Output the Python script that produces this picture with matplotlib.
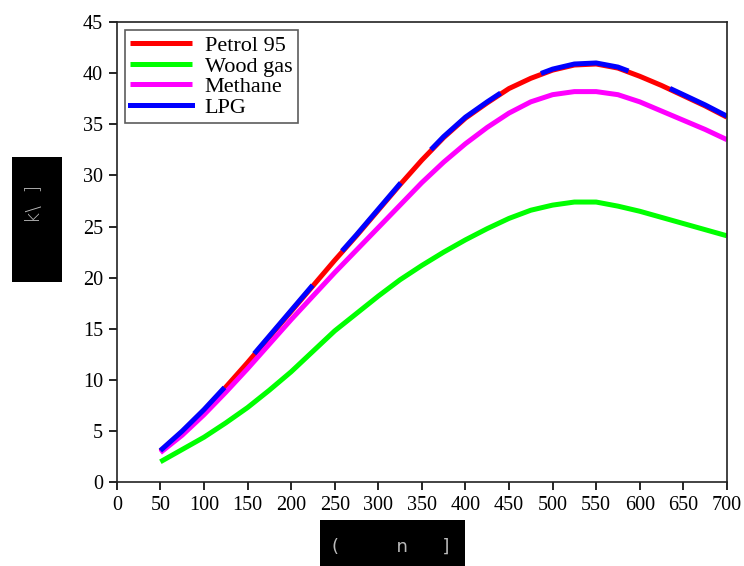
import numpy as np
import matplotlib
matplotlib.use("Agg")
import matplotlib.pyplot as plt
from matplotlib.patches import Rectangle

# values, every 25 units
speed = [50, 75, 100, 125, 150, 175, 200, 225, 250, 275, 300, 325, 350, 375,
         400, 425, 450, 475, 500, 525, 550, 575, 600, 625, 650, 675, 700]

lpg = [3.1, 5.0, 7.1, 9.4, 11.8, 14.3, 16.8, 19.3, 21.8, 24.2, 26.7, 29.2, 31.6, 33.8,
       35.7, 37.2, 38.6, 39.6, 40.4, 40.9, 41.0, 40.6, 39.8, 38.9, 37.9, 36.9, 35.8]
petrol95 = [3.0, 4.9, 7.0, 9.3, 11.7, 14.2, 16.7, 19.2, 21.7, 24.1, 26.6, 29.1, 31.5, 33.7,
            35.6, 37.1, 38.5, 39.5, 40.3, 40.8, 40.9, 40.5, 39.7, 38.8, 37.8, 36.8, 35.7]
methane = [2.9, 4.6, 6.6, 8.8, 11.1, 13.5, 15.9, 18.2, 20.5, 22.7, 24.9, 27.1, 29.3, 31.3,
           33.1, 34.7, 36.1, 37.2, 37.9, 38.2, 38.2, 37.9, 37.2, 36.3, 35.4, 34.5, 33.5]
wood_gas = [2.0, 3.2, 4.4, 5.8, 7.3, 9.0, 10.8, 12.8, 14.8, 16.5, 18.2, 19.8, 21.2, 22.5,
            23.7, 24.8, 25.8, 26.6, 27.1, 27.4, 27.4, 27.0, 26.5, 25.9, 25.3, 24.7, 24.1]

plt.rcParams['font.family'] = ['Liberation Serif', 'DejaVu Serif']

fig = plt.figure(figsize=(7.44, 5.66), dpi=100)
ax = fig.add_axes([0.157, 0.148, 0.82, 0.813])

lw = 3.6
ax.plot(speed, petrol95, color='#ff0000', lw=lw, label='Petrol 95', solid_capstyle='butt')
ax.plot(speed, wood_gas, color='#00ff00', lw=lw, label='Wood gas', solid_capstyle='butt')
ax.plot(speed, methane, color='#ff00ff', lw=lw, label='Methane', solid_capstyle='butt')
# LPG lies on top of petrol; long dashes so the red shows through in places
ax.plot(speed, lpg, color='#0000ff', lw=lw, dashes=(18, 9), dash_capstyle='butt')
ax.plot([], [], color='#0000ff', lw=lw, label='LPG')

ax.set_xlim(0, 700)
ax.set_ylim(0, 45)
ax.set_xticks(np.arange(0, 701, 50))
ax.set_yticks(np.arange(0, 46, 5))
ax.tick_params(direction='out', length=6, width=1.2, labelsize=14.5, pad=4)
for s in ax.spines.values():
    s.set_linewidth(1.2)
    s.set_color('#222222')

leg = ax.legend(loc='upper left', fontsize=16, frameon=True, fancybox=False,
                edgecolor='#333333', handlelength=2.8, handletextpad=0.55,
                labelspacing=0.0, borderpad=0.25, borderaxespad=0.35)
leg.get_frame().set_linewidth(1.2)

# redacted axis labels: black boxes with faint text
fig.add_artist(Rectangle((0.016, 0.502), 0.067, 0.221, transform=fig.transFigure,
                         facecolor='black', edgecolor='none'))
fig.text(0.047, 0.64, 'k\\  ]', rotation=90, color='#bbbbbb', fontsize=14,
         family='DejaVu Sans', fontweight='light', ha='center', va='center')
fig.add_artist(Rectangle((0.430, 0.0), 0.195, 0.081, transform=fig.transFigure,
                         facecolor='black', edgecolor='none'))
fig.text(0.525, 0.034, '(          n      ]', color='#bbbbbb', fontsize=13,
         family='DejaVu Sans', ha='center', va='center')

fig.savefig('out.png', dpi=100)
